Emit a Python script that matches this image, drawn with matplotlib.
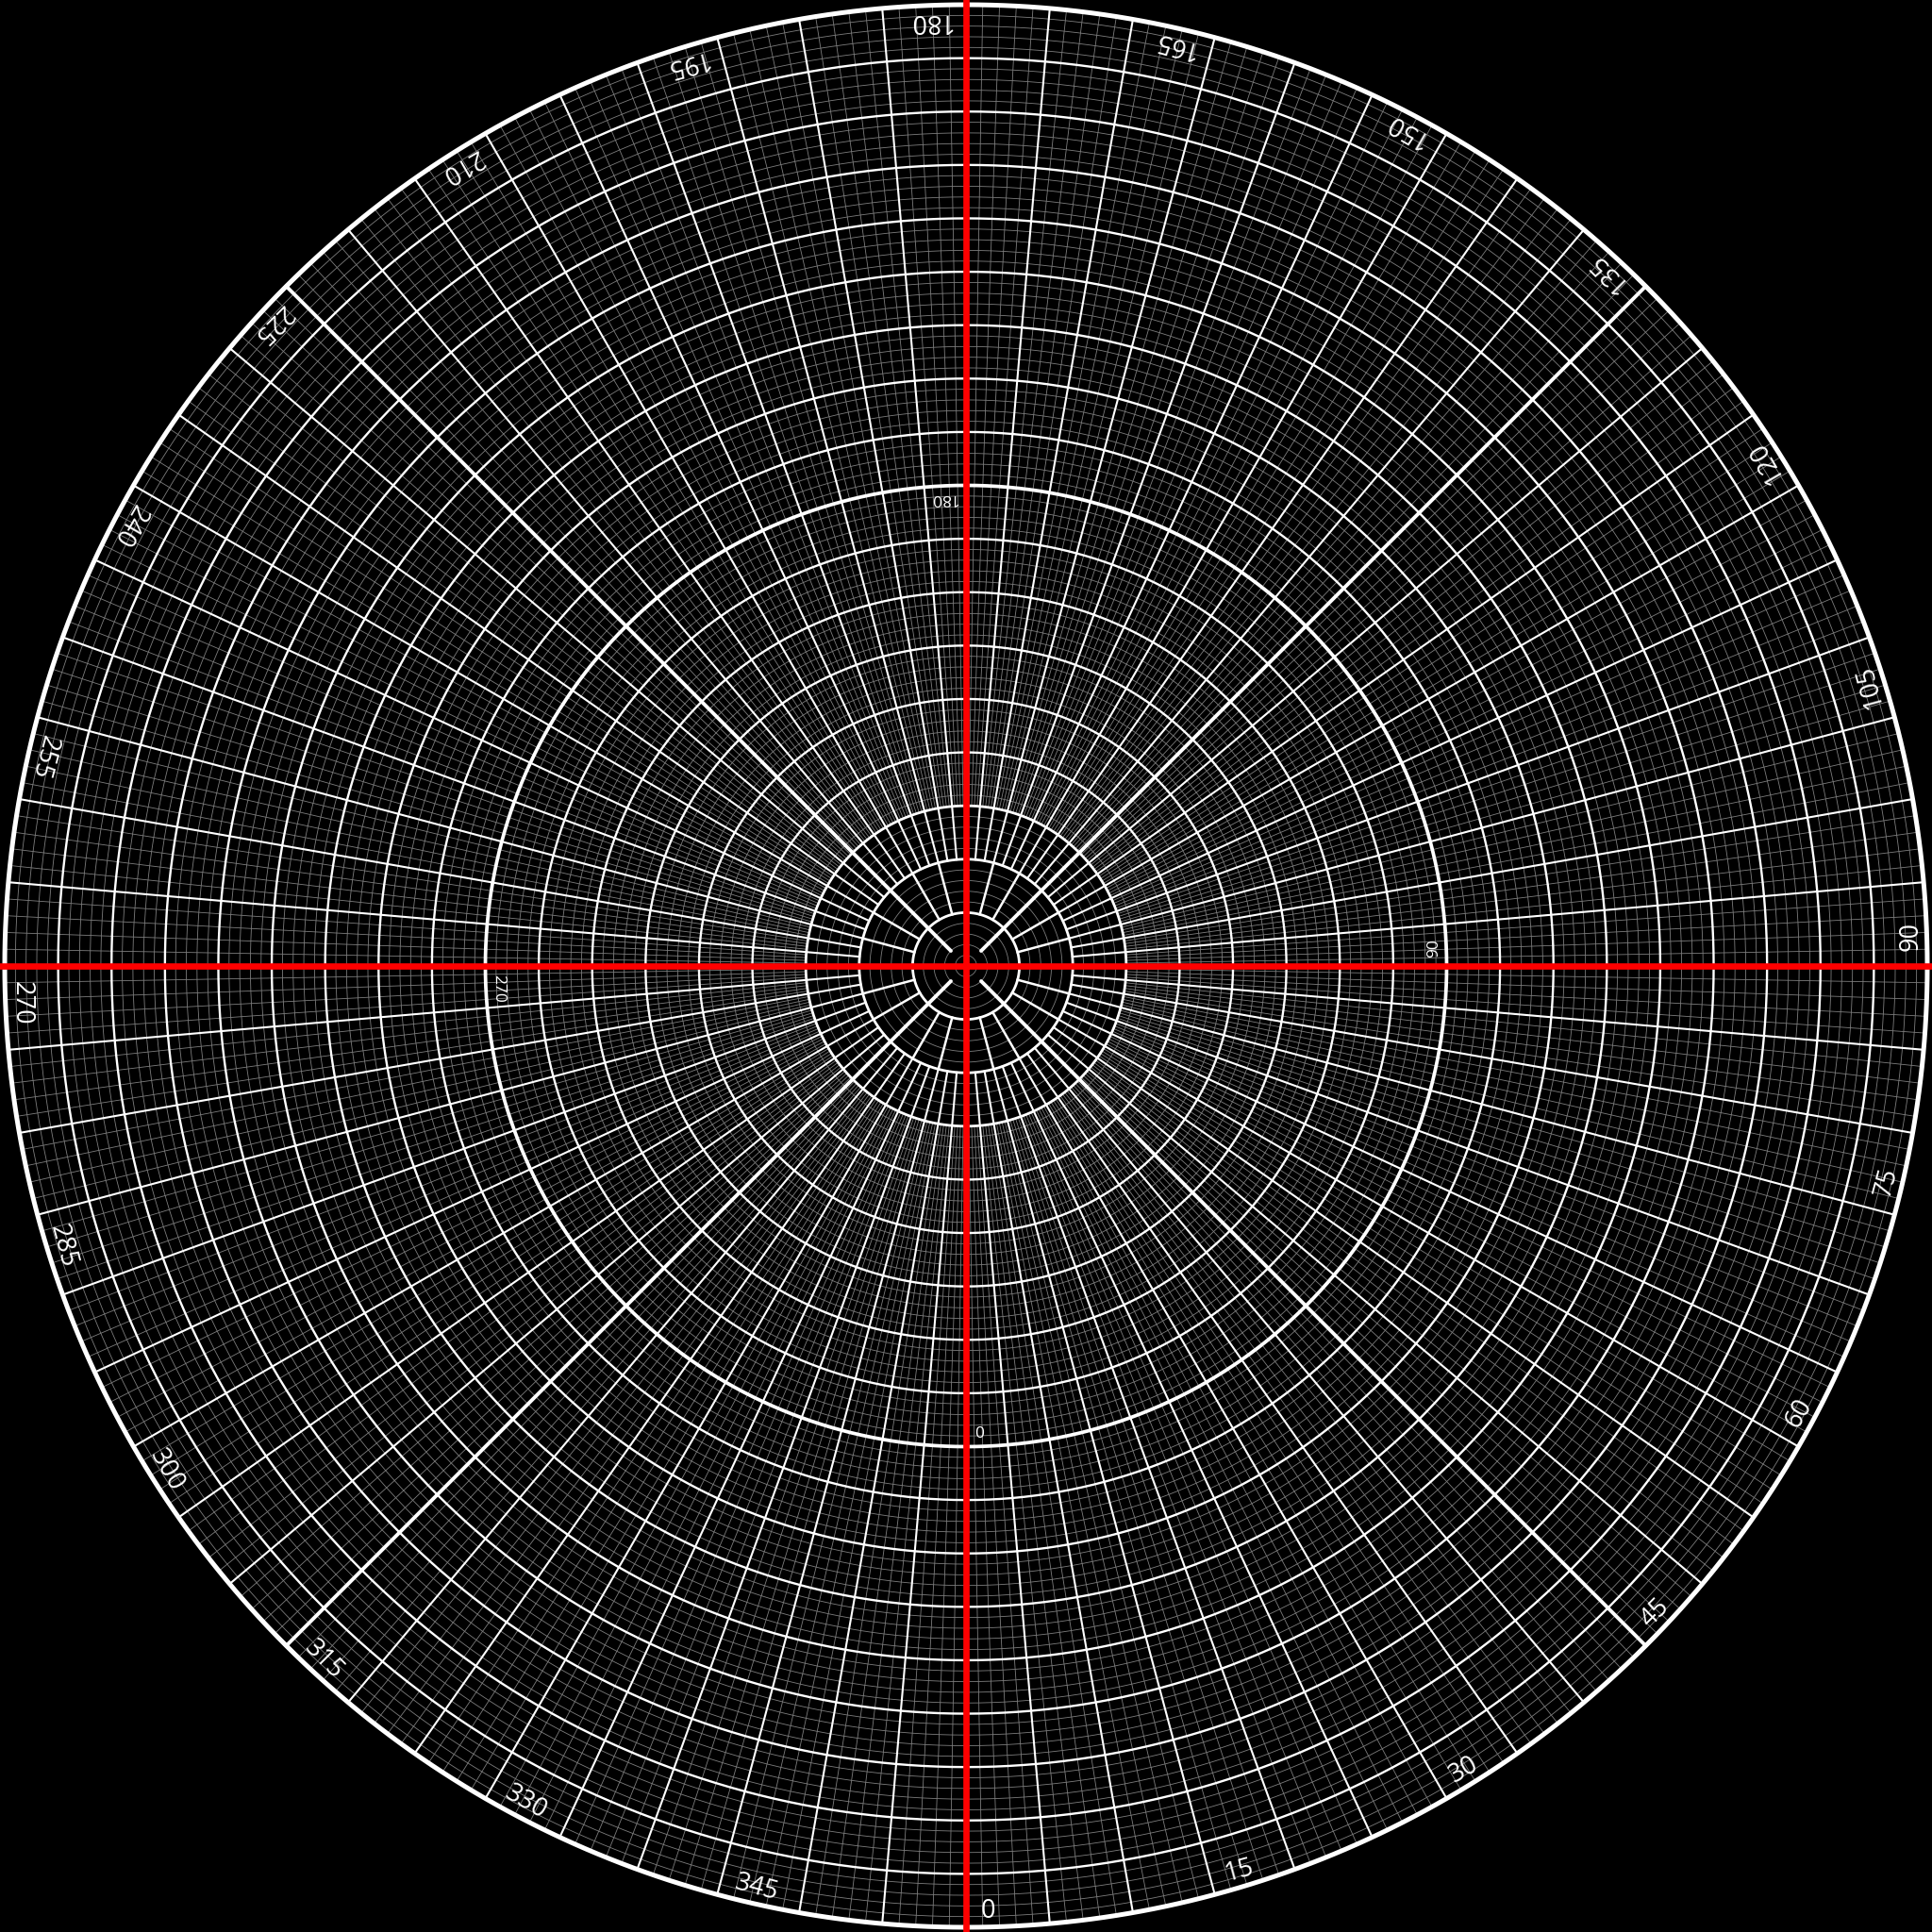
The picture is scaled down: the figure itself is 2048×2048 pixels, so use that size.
"""
Carta polar de cielo: cenit (0) en el centro, horizonte (90) en el borde.
Rejilla fina de 1 grado, aros cada 5, rayos más densos hacia fuera.

Genera: out.png (2048x2048).
"""

import numpy as np
import matplotlib

matplotlib.use("Agg")
import matplotlib.pyplot as plt

R_MAX = 90  # distancia cenital del borde

# etiquetas de acimut
OUTER_LABELS = list(range(0, 360, 15))
INNER_LABELS = [0, 90, 180, 270]
INNER_LABEL_R = 44.2
OUTER_LABEL_R = 89.1

# aros (en grados de distancia cenital)
FINE_RINGS = [r for r in range(1, 90) if r % 5]
MEDIUM_RINGS = [r for r in range(20, 90, 5) if r != 45]
STRONG_RINGS = [5, 10, 15]
BOLD_RINGS = [45]
OUTER_RING = [90]

# rayos: acimutes y tramo radial (desde, hasta)
SPOKES_15 = [a for a in range(0, 360, 15) if a % 45]
SPOKES_15_SPAN = (5, 10)
SPOKES_5 = [a for a in range(0, 360, 5) if a % 45]
SPOKES_5_SPAN = (10, 90)
SPOKES_1 = [a for a in range(0, 360) if a % 5]
SPOKES_1_SPAN = (15, 90)
DIAGONALS = [45, 135, 225, 315]
DIAGONALS_SPAN = (2, 90)
CROSS = [0, 90, 180, 270]
CROSS_SPAN = (0, 90.6)

GRAY = "#7d7d7d"
FONT = "Open Sans"


def draw_rings(ax, radii, **kw):
    th = np.linspace(0, 2 * np.pi, 1441)
    t, rr = [], []
    for r in radii:
        t.append(np.append(th, np.nan))
        rr.append(np.append(np.full_like(th, r), np.nan))
    ax.plot(np.concatenate(t), np.concatenate(rr), clip_on=False, **kw)


def draw_spokes(ax, angles, span, **kw):
    t, rr = [], []
    for a in angles:
        th = np.deg2rad(a)
        t += [th, th, np.nan]
        rr += [span[0], span[1], np.nan]
    ax.plot(t, rr, clip_on=False, **kw)


def main() -> None:
    fig = plt.figure(figsize=(20.48, 20.48), dpi=100, facecolor="black")
    m = 5 / 2048
    ax = fig.add_axes([m, m, 1 - 2 * m, 1 - 2 * m], projection="polar")
    ax.set_facecolor("black")
    ax.set_theta_zero_location("S")
    ax.set_theta_direction(1)
    ax.set_ylim(0, R_MAX)
    ax.set_xticks([])
    ax.set_yticks([])
    ax.grid(False)
    ax.spines["polar"].set_visible(False)

    # rejilla fina
    draw_rings(ax, FINE_RINGS, color=GRAY, lw=0.6, zorder=1)
    draw_spokes(ax, SPOKES_1, SPOKES_1_SPAN, color=GRAY, lw=0.6, zorder=1)

    # líneas blancas
    draw_spokes(ax, SPOKES_15, SPOKES_15_SPAN, color="white", lw=1.8, zorder=2)
    draw_spokes(ax, SPOKES_5, SPOKES_5_SPAN, color="white", lw=1.5, zorder=2)
    draw_rings(ax, MEDIUM_RINGS, color="white", lw=1.7, zorder=2)
    draw_rings(ax, STRONG_RINGS, color="white", lw=2.0, zorder=3)
    draw_rings(ax, BOLD_RINGS, color="white", lw=2.7, zorder=3)
    draw_rings(ax, OUTER_RING, color="white", lw=3.6, zorder=3)
    draw_spokes(ax, DIAGONALS, DIAGONALS_SPAN, color="white", lw=2.8,
                solid_capstyle="round", zorder=3)

    # ejes rojos
    draw_spokes(ax, CROSS, CROSS_SPAN, color="#ff0000", lw=4.8,
                solid_capstyle="butt", zorder=5)

    for a in OUTER_LABELS:
        ax.text(np.deg2rad(a + 0.9), OUTER_LABEL_R, str(a), rotation=a,
                rotation_mode="anchor", ha="left", va="baseline",
                color="white", fontsize=19.5, family=FONT, zorder=6)
    for a in INNER_LABELS:
        ax.text(np.deg2rad(a + 1.0), INNER_LABEL_R, str(a), rotation=a,
                rotation_mode="anchor", ha="left", va="baseline",
                color="white", fontsize=12.5, family=FONT, zorder=6)

    fig.savefig("out.png", dpi=100, facecolor="black")


if __name__ == "__main__":
    main()
